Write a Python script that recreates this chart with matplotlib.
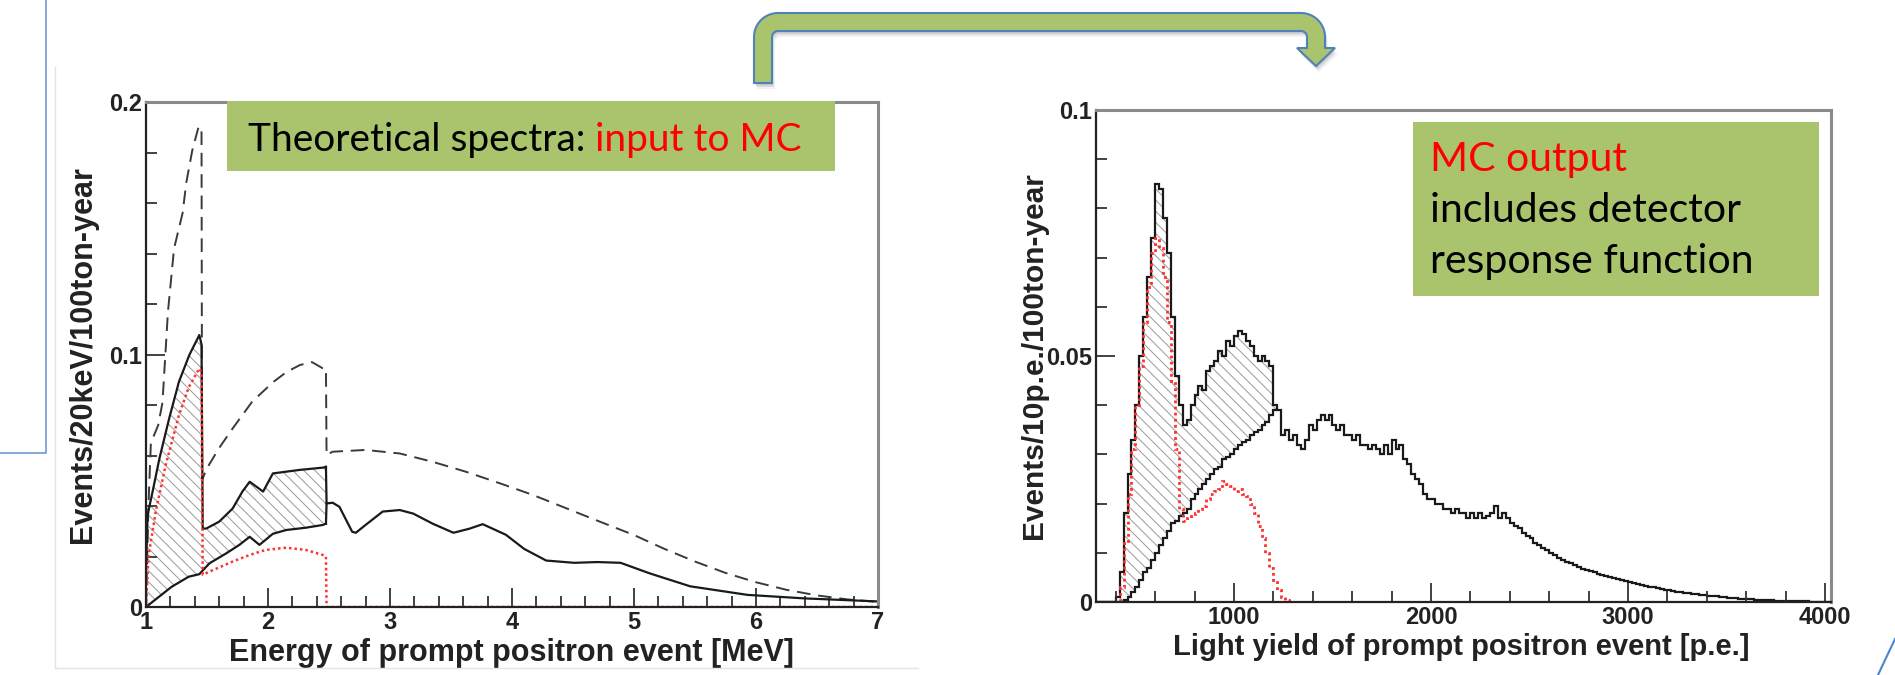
import matplotlib
matplotlib.use('Agg')
import matplotlib.pyplot as plt
import numpy as np
from matplotlib.patches import Rectangle, Polygon
from matplotlib.ticker import MultipleLocator

# ---- left panel: theoretical spectra (MeV) ----
dash_x = [1.0, 1.02, 1.04, 1.1, 1.135, 1.18, 1.23, 1.30, 1.33, 1.38, 1.43, 1.455, 1.46,
          1.5, 1.6, 1.71, 1.87, 2.04, 2.15, 2.26, 2.36, 2.45, 2.475, 2.48, 2.53, 2.8,
          3.08, 3.35, 3.62, 3.9, 4.17, 4.45, 4.72, 5.0, 5.25, 5.5, 5.75, 6.0, 6.25, 6.5, 6.75, 7.0]
dash_y = [0.0, 0.04, 0.065, 0.072, 0.081, 0.117, 0.142, 0.156, 0.168, 0.181, 0.19, 0.19, 0.0504,
          0.055, 0.063, 0.0707, 0.0813, 0.089, 0.093, 0.0958, 0.097, 0.0945, 0.0945, 0.0602, 0.0615, 0.0622,
          0.0608, 0.0575, 0.0536, 0.049, 0.0444, 0.039, 0.0338, 0.0285, 0.023, 0.018, 0.0135, 0.0098, 0.0068, 0.0046, 0.003, 0.002]

upper_x = [1.0, 1.013, 1.054, 1.11, 1.19, 1.27, 1.355, 1.437, 1.455, 1.465, 1.495, 1.60, 1.71,
           1.79, 1.85, 1.96, 2.04, 2.15, 2.26, 2.45, 2.475]
upper_y = [0.015, 0.0365, 0.0457, 0.0588, 0.0747, 0.0892, 0.0998, 0.1077, 0.104, 0.031, 0.0311, 0.0338, 0.039,
           0.0457, 0.0496, 0.0457, 0.0529, 0.0536, 0.0543, 0.0552, 0.0555]

lower_x = [1.0, 1.21, 1.35, 1.437, 1.52, 1.656, 1.765, 1.85, 1.93, 2.04, 2.15, 2.31, 2.45, 2.475]
lower_y = [0.0, 0.008, 0.012, 0.013, 0.0173, 0.0212, 0.0246, 0.0278, 0.0246, 0.029, 0.0305, 0.0314, 0.0325, 0.033]

tail_x = [2.475, 2.48, 2.53, 2.585, 2.69, 2.72, 2.8, 2.94, 3.08, 3.19, 3.35, 3.52, 3.65, 3.76,
          3.95, 4.1, 4.28, 4.51, 4.7, 4.89, 5.13, 5.46, 5.93, 6.4, 7.0]
tail_y = [0.0555, 0.041, 0.0413, 0.0397, 0.0298, 0.0294, 0.0325, 0.0378, 0.0384, 0.037, 0.033, 0.0294, 0.031, 0.0328,
          0.0286, 0.023, 0.0184, 0.0175, 0.0178, 0.0175, 0.0133, 0.0082, 0.0048, 0.0034, 0.0022]

red_x = [1.0, 1.02, 1.08, 1.16, 1.27, 1.35, 1.437, 1.455, 1.465, 1.52, 1.71, 1.85, 1.98,
         2.15, 2.31, 2.45, 2.475, 2.48, 7.0]
red_y = [0.0, 0.02, 0.0378, 0.056, 0.076, 0.087, 0.0945, 0.093, 0.0128, 0.014, 0.018, 0.0206, 0.0226,
         0.0235, 0.0226, 0.0206, 0.02, 0.0, 0.0]

# ---- right panel: MC output, 20 p.e. bins starting at 300 ----
bin_start = 300
bin_width = 20
total_hist = [
    0, 0, 0, 0, 0, 0.001, 0.006, 0.018, 0.026, 0.033,
    0.040, 0.050, 0.058, 0.066, 0.074, 0.085, 0.084, 0.078, 0.071, 0.058,
    0.046, 0.040, 0.036, 0.037, 0.040, 0.042, 0.044, 0.043, 0.047, 0.048,
    0.049, 0.051, 0.050, 0.053, 0.052, 0.054, 0.055, 0.0545, 0.053, 0.052,
    0.050, 0.049, 0.050, 0.049, 0.048, 0.040, 0.039, 0.034, 0.035, 0.033,
    0.034, 0.032, 0.031, 0.033, 0.036, 0.035, 0.037, 0.038, 0.037, 0.038,
    0.036, 0.035, 0.036, 0.034, 0.034, 0.033, 0.034, 0.032, 0.032, 0.031,
    0.032, 0.031, 0.030, 0.032, 0.030, 0.033, 0.031, 0.032, 0.029, 0.028,
    0.026, 0.025, 0.024, 0.022, 0.021, 0.021, 0.020, 0.020, 0.019, 0.019,
    0.018, 0.019, 0.018, 0.018, 0.017, 0.018, 0.017, 0.018, 0.017, 0.0175,
    0.018, 0.0195, 0.017, 0.018, 0.017, 0.016, 0.0155, 0.015, 0.014, 0.0135,
    0.013, 0.012, 0.0115, 0.011, 0.0105, 0.010, 0.0095, 0.009, 0.0085, 0.0082,
    0.008, 0.0075, 0.0072, 0.0068, 0.0065, 0.0063, 0.006, 0.0057, 0.0055, 0.0052,
    0.005, 0.0048, 0.0046, 0.0044, 0.0043, 0.0041, 0.0039, 0.0037, 0.0035, 0.0033,
    0.0031, 0.003, 0.0028, 0.0027, 0.0025, 0.0024, 0.0022, 0.0021, 0.002, 0.0019,
    0.0018, 0.0017, 0.0016, 0.0015, 0.0014, 0.0013, 0.0012, 0.0012, 0.0011, 0.001,
    0.0009, 0.0009, 0.0008, 0.0007, 0.0007, 0.0006, 0.0006, 0.0005, 0.0005, 0.0004,
    0.0004, 0.0004, 0.0003, 0.0003, 0.0003, 0.0003, 0.0002, 0.0002, 0.0002, 0.0002,
    0.0002, 0.0001, 0.0001, 0.0001, 0.0001, 0.0001, 0.0001]
other_hist = [
    0, 0, 0, 0, 0, 0, 0, 0.0005, 0.001, 0.002,
    0.003, 0.0045, 0.006, 0.007, 0.0085, 0.010, 0.0115, 0.013, 0.0145, 0.016,
    0.0165, 0.0175, 0.018, 0.019, 0.021, 0.022, 0.023, 0.024, 0.025, 0.026,
    0.027, 0.0275, 0.029, 0.0295, 0.030, 0.031, 0.032, 0.0325, 0.033, 0.034,
    0.0345, 0.035, 0.036, 0.0365, 0.038, 0.039]
red_hist = [
    0, 0, 0, 0, 0, 0, 0.003, 0.012, 0.022, 0.031,
    0.040, 0.048, 0.057, 0.064, 0.071, 0.074, 0.072, 0.066, 0.057, 0.045,
    0.031, 0.019, 0.0165, 0.017, 0.0175, 0.018, 0.019, 0.0195, 0.021, 0.022,
    0.0225, 0.023, 0.0245, 0.024, 0.0235, 0.0225, 0.023, 0.022, 0.0215, 0.020,
    0.018, 0.0155, 0.013, 0.010, 0.007, 0.0045, 0.0025, 0.001, 0.0004, 0.0001] + [0] * 137

edges = bin_start + bin_width * np.arange(len(total_hist) + 1)
total_hist = np.array(total_hist)
other_hist = np.array(other_hist)
red_hist = np.array(red_hist)

root_font = 'Liberation Sans'
slide_font = 'Lato'
green = '#a9c46c'
blue = '#4f81bd'
plt.rcParams['hatch.linewidth'] = 0.7

fig = plt.figure(figsize=(18.95, 6.75), dpi=100)
fig.patch.set_facecolor('white')


def root_style(ax, lab_size):
    for s in ['left', 'bottom']:
        ax.spines[s].set_linewidth(1.6)
        ax.spines[s].set_color('#222222')
    for s in ['top', 'right']:
        ax.spines[s].set_linewidth(2.2)
        ax.spines[s].set_color('#8a8a8a')
    ax.tick_params(which='both', direction='in', top=False, right=False, width=1.3, color='#333333')
    ax.tick_params(which='major', length=14, pad=3, labelsize=lab_size)
    ax.tick_params(which='minor', length=8)
    for lab in ax.get_xticklabels() + ax.get_yticklabels():
        lab.set_fontfamily(root_font)
        lab.set_fontweight('bold')
        lab.set_color('#222222')


# left panel
ax1 = fig.add_axes([146 / 1895, 1 - 607 / 675, 732 / 1895, 505 / 675])
ax1.fill(np.concatenate([upper_x, lower_x[::-1]]), np.concatenate([upper_y, lower_y[::-1]]),
         facecolor='none', edgecolor='#9a9a9a', hatch='\\\\\\', linewidth=0)
ax1.plot(dash_x, dash_y, color='#3a3a3a', lw=1.4, ls=(0, (7, 4)))
ax1.plot(upper_x, upper_y, color='#1a1a1a', lw=1.6)
ax1.plot(lower_x, lower_y, color='#1a1a1a', lw=1.6)
ax1.plot(tail_x, tail_y, color='#1a1a1a', lw=1.6)
ax1.plot([2.475, 2.48], [lower_y[-1], tail_y[1]], color='#1a1a1a', lw=1.6)
ax1.plot(red_x, red_y, color='#ff3030', lw=1.8, ls=(0, (1, 1.2)))
ax1.set_xlim(1, 7)
ax1.set_ylim(0, 0.2)
ax1.set_xticks([1, 2, 3, 4, 5, 6, 7], labels=['1', '2', '3', '4', '5', '6', '7'])
ax1.set_yticks([0, 0.1, 0.2], labels=['0', '0.1', '0.2'])
ax1.xaxis.set_minor_locator(MultipleLocator(0.2))
ax1.yaxis.set_minor_locator(MultipleLocator(0.02))
root_style(ax1, 17)
ax1.set_xlabel('Energy of prompt positron event [MeV]', fontsize=22, fontfamily=root_font,
               fontweight='bold', color='#222222', va='center')
ax1.xaxis.set_label_coords(0.499, -0.091)
ax1.set_ylabel('Events/20keV/100ton-year', fontsize=22, fontfamily=root_font,
               fontweight='bold', color='#222222', va='center')
ax1.yaxis.set_label_coords(-0.086, 0.5)

# right panel
ax2 = fig.add_axes([1096 / 1895, 1 - 602 / 675, 735 / 1895, 492 / 675])
n_other = len(other_hist)
ax2.fill_between(edges[:n_other + 1], np.append(other_hist, other_hist[-1]),
                 np.append(total_hist[:n_other], total_hist[n_other - 1]), step='post',
                 facecolor='none', edgecolor='#9a9a9a', hatch='\\\\\\', linewidth=0)
ax2.stairs(total_hist, edges, color='#1a1a1a', lw=1.6)
ax2.stairs(other_hist, edges[:n_other + 1], color='#1a1a1a', lw=1.6, baseline=None)
ax2.stairs(red_hist, edges, color='#ff3030', lw=2.0, ls=(0, (1, 1.2)), baseline=None)
ax2.set_xlim(300, 4030)
ax2.set_ylim(0, 0.1)
ax2.set_xticks([1000, 2000, 3000, 4000], labels=['1000', '2000', '3000', '4000'])
ax2.set_yticks([0, 0.05, 0.1], labels=['0', '0.05', '0.1'])
ax2.xaxis.set_minor_locator(MultipleLocator(200))
ax2.yaxis.set_minor_locator(MultipleLocator(0.01))
root_style(ax2, 17)
ax2.set_xlabel('Light yield of prompt positron event [p.e.]', fontsize=21, fontfamily=root_font,
               fontweight='bold', color='#222222', va='center')
ax2.xaxis.set_label_coords(0.497, -0.0915)
ax2.set_ylabel('Events/10p.e./100ton-year', fontsize=21.5, fontfamily=root_font,
               fontweight='bold', color='#222222', va='center')
ax2.yaxis.set_label_coords(-0.084, 0.5)

# overlay in pixel units for the slide decorations
ov = fig.add_axes([0, 0, 1, 1], zorder=10)
ov.set_xlim(0, 1895)
ov.set_ylim(675, 0)
ov.axis('off')
ov.patch.set_alpha(0)

# slide frame lines
ov.plot([46, 46, 0], [0, 453, 453], color='#6d9bd3', lw=1.2)
ov.plot([55, 55, 918], [67, 668, 668], color='#e4e4e4', lw=1.0)
ov.plot([1878, 1886, 1895], [675, 658, 639], color='#4a86c8', lw=1.5)


def arc(cx, cy, r, a0, a1, n=14):
    t = np.radians(np.linspace(a0, a1, n))
    return list(zip(cx + r * np.cos(t), cy - r * np.sin(t)))


ro, ri = 24, 6
pts = [(754, 83)]
pts += arc(754 + ro, 13 + ro, ro, 180, 90)
pts += arc(1325 - ro, 13 + ro, ro, 90, 0)
pts += [(1325, 48), (1335, 48), (1316, 66), (1297, 48), (1307, 48)]
pts += arc(1307 - ri, 31 + ri, ri, 0, 90)
pts += arc(772 + ri, 31 + ri, ri, 90, 180)
pts += [(772, 83)]
pts = np.array(pts)
for dx, dy, a in [(3, 6, 0.08), (2, 4, 0.12), (1, 2.5, 0.15)]:
    ov.add_patch(Polygon(pts + [dx, dy], closed=True, facecolor='#555555', edgecolor='none', alpha=a))
ov.add_patch(Polygon(pts, closed=True, facecolor=green, edgecolor=blue, lw=1.5))

# text boxes
ov.add_patch(Rectangle((227, 101), 608, 70, facecolor=green, edgecolor='none'))
ov.add_patch(Rectangle((1413, 122), 406, 174, facecolor=green, edgecolor='none'))

t1 = ov.text(248, 140, 'Theoretical spectra: ', fontsize=28, fontfamily=slide_font,
             color='black', va='center', ha='left')
fig.canvas.draw()
bb = t1.get_window_extent()
x_end = ov.transData.inverted().transform((bb.x1, bb.y0))[0]
ov.text(x_end, 140, 'input to MC', fontsize=28, fontfamily=slide_font,
        color='#ff0000', va='center', ha='left')

ov.text(1430, 160, 'MC output', fontsize=29.5, fontfamily=slide_font, color='#ff0000', va='center')
ov.text(1430, 211, 'includes detector', fontsize=29.5, fontfamily=slide_font, color='black', va='center')
ov.text(1430, 262, 'response function', fontsize=29.5, fontfamily=slide_font, color='black', va='center')

fig.savefig('out.png', dpi=100, facecolor='white')
